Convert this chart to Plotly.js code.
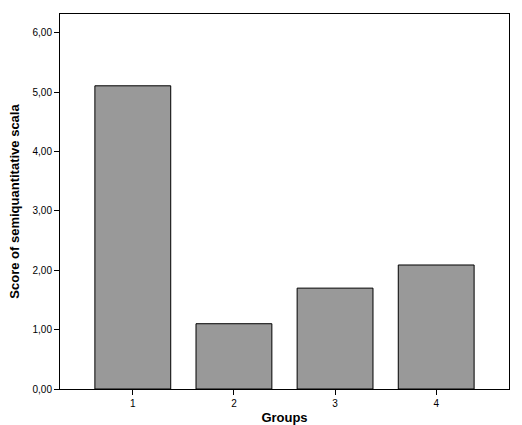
<!DOCTYPE html>
<html>
<head>
<meta charset="utf-8">
<script src="https://cdn.plot.ly/plotly-3.0.1.min.js"></script>
<style>html,body{margin:0;padding:0;background:#fff;}#chart{width:522px;height:425px;}</style>
</head>
<body>
<div id="chart"></div>
<script>
const groups = [1, 2, 3, 4];
const groupLabels = ["1", "2", "3", "4"];
const scores = [5.11, 1.10, 1.70, 2.09];
const yTicks = [0, 1, 2, 3, 4, 5, 6];

const trace = {
  type: 'bar',
  x: groups,
  y: scores,
  width: 0.75,
  marker: {color: '#999999', line: {color: '#000000', width: 1}},
  hoverinfo: 'none'
};

const layout = {
  width: 522, height: 425,
  margin: {l: 60, r: 13, t: 14, b: 36},
  paper_bgcolor: '#ffffff', plot_bgcolor: '#ffffff',
  separators: ',.',
  showlegend: false,
  font: {family: 'Arial, Liberation Sans, sans-serif', color: '#000000', size: 10},
  xaxis: {
    range: [0.28, 4.72],
    tickmode: 'array', tickvals: groups, ticktext: groupLabels,
    ticks: 'outside', ticklen: 5, tickcolor: '#000', tickwidth: 1,
    showgrid: false, zeroline: false,
    showline: true, linecolor: '#000', linewidth: 1, mirror: true,
    tickfont: {size: 10},
    title: {text: 'Groups', font: {size: 13, weight: 'bold'}, standoff: 4}
  },
  yaxis: {
    range: [0, 6.32],
    tickmode: 'array', tickvals: yTicks, tickformat: '.2f',
    ticks: 'outside', ticklen: 5, tickcolor: '#000', tickwidth: 1,
    showgrid: false, zeroline: false,
    showline: true, linecolor: '#000', linewidth: 1, mirror: true,
    tickfont: {size: 10},
    title: {text: 'Score of semiquantitative scala', font: {size: 13, weight: 'bold'}, standoff: 9}
  }
};

Plotly.newPlot('chart', [trace], layout, {staticPlot: true, displayModeBar: false});
</script>
</body>
</html>
